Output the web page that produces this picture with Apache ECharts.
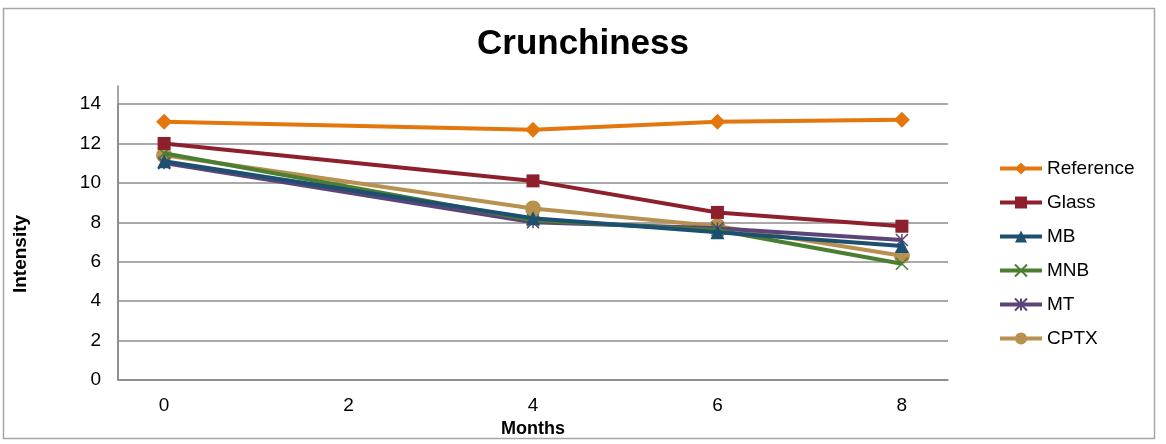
<!DOCTYPE html>
<html>
<head>
<meta charset="utf-8">
<script src="https://cdn.jsdelivr.net/npm/echarts@6/dist/echarts.min.js"></script>
<style>
  html, body { margin: 0; padding: 0; background: #fff; }
  #chart { width: 1166px; height: 444px; }
</style>
</head>
<body>
<div id="chart"></div>
<script>
// months on the x axis (category slots 0..8, labels every 2)
let monthSlots = ['0', '1', '2', '3', '4', '5', '6', '7', '8'];
let months = [0, 4, 6, 8];

let seriesNames = ['Reference', 'Glass', 'MB', 'MNB', 'MT', 'CPTX'];
let reference = [13.1, 12.7, 13.1, 13.2];
let glass     = [12.0, 10.1, 8.5, 7.8];
let mb        = [11.1, 8.2, 7.5, 6.8];
let mnb       = [11.5, 8.1, 7.6, 5.9];
let mt        = [11.0, 8.0, 7.7, 7.1];
let cptx      = [11.4, 8.7, 7.8, 6.3];

let colors  = ['#E3770E', '#8E1F2D', '#1C4F70', '#4A7E31', '#5A4478', '#B8904F'];
let symbols = ['diamond', 'rect', 'triangle', 'none', 'none', 'circle'];

let allValues = [reference, glass, mb, mnb, mt, cptx];

// little cross / asterisk markers like the office chart
let crossPath = 'path://M0,0 L10,10 M10,0 L0,10';
let starPath = 'path://M0,0 L10,10 M10,0 L0,10 M5,0 L5,10';

let dom = document.getElementById('chart');
let myChart = echarts.init(dom);

let series = seriesNames.map(function (name, i) {
    let sym = symbols[i];
    let size = 13;
    if (sym == 'diamond') size = 16;
    if (sym == 'circle') size = 16;
    if (sym == 'triangle') size = 14;
    let itemStyle = { color: colors[i] };
    if (name == 'MNB') { sym = crossPath; size = 12; itemStyle = { color: 'none', borderColor: colors[i], borderWidth: 1.5 }; }
    if (name == 'MT') { sym = starPath; size = 12; itemStyle = { color: 'none', borderColor: colors[i], borderWidth: 1.5 }; }
    return {
        name: name,
        type: 'line',
        xAxisIndex: 0,
        yAxisIndex: 0,
        data: months.map(function (m, j) { return [m, allValues[i][j]]; }),
        symbol: sym,
        symbolSize: size,
        showAllSymbol: true,
        lineStyle: { color: colors[i], width: 4 },
        itemStyle: itemStyle,
        z: 10 - i
    };
});

let options = {
    animation: false,
    backgroundColor: '#fff',
    textStyle: { fontFamily: 'Liberation Sans, Arial, sans-serif' },
    title: {
        text: 'Crunchiness',
        left: 'center',
        top: 22,
        textStyle: { fontSize: 35, fontWeight: 'bold', color: '#000' }
    },
    legend: {
        orient: 'vertical',
        left: 993,
        top: 154,
        itemWidth: 42,
        itemHeight: 15,
        itemGap: 15,
        lineStyle: { width: 4 },
        textStyle: { fontSize: 19, color: '#000' },
        data: seriesNames
    },
    graphic: [{
        type: 'rect',
        shape: { x: 3.5, y: 8.5, width: 1151, height: 430 },
        style: { fill: 'none', stroke: '#a6a6a6', lineWidth: 1.5 },
        silent: true
    }],
    grid: [
        { left: 118, right: 218, top: 104, bottom: 64 },
        { left: 118, right: 218, top: 86, bottom: 64 }
    ],
    xAxis: [{
        gridIndex: 0,
        type: 'category',
        data: monthSlots,
        boundaryGap: true,
        name: 'Months',
        nameLocation: 'middle',
        nameGap: 35,
        nameTextStyle: { fontSize: 18, fontWeight: 'bold', color: '#000' },
        axisLine: { lineStyle: { color: '#888', width: 1.5 } },
        axisTick: { show: false },
        axisLabel: { interval: 1, fontSize: 19, color: '#000', margin: 16 }
    }, {
        gridIndex: 1,
        type: 'category',
        data: monthSlots,
        show: false
    }],
    yAxis: [{
        gridIndex: 0,
        type: 'value',
        min: 0,
        max: 14,
        interval: 2,
        name: 'Intensity',
        nameLocation: 'middle',
        nameGap: 88,
        nameTextStyle: { fontSize: 19, fontWeight: 'bold', color: '#000', padding: [0, 24, 0, 0] },
        axisLine: { show: true, lineStyle: { color: '#888', width: 1.5 } },
        axisTick: { show: false },
        axisLabel: { fontSize: 19, color: '#000', margin: 17 },
        splitLine: { lineStyle: { color: '#8c8c8c', width: 1.5 } }
    }, {
        gridIndex: 1,
        type: 'value',
        min: 0,
        max: 15,
        axisLine: { show: true, lineStyle: { color: '#888', width: 1.5 } },
        axisTick: { show: false },
        axisLabel: { show: false },
        splitLine: { show: false }
    }],
    series: series
};

myChart.setOption(options);
</script>
</body>
</html>
